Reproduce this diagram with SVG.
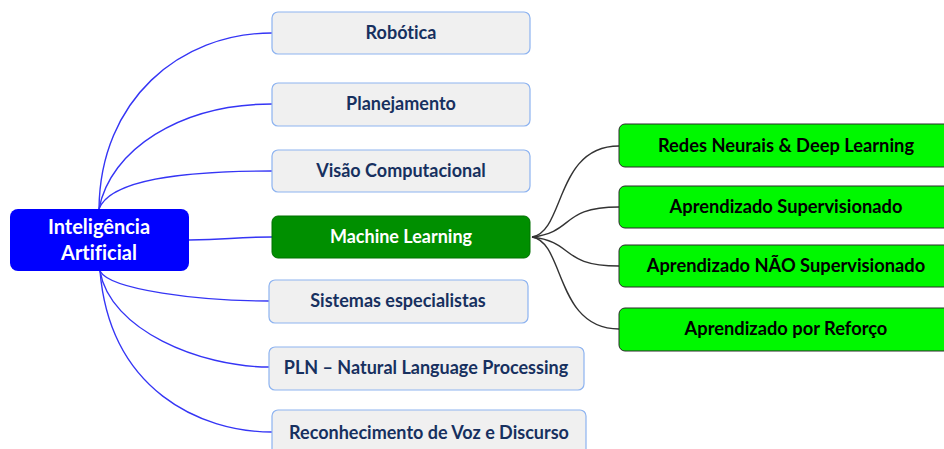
<svg xmlns="http://www.w3.org/2000/svg" width="944" height="449" viewBox="0 0 944 449">
<style>
  text { font-family: Lato, "Liberation Sans", sans-serif; font-weight: bold; text-anchor: middle; font-variant-ligatures: none; }
  .gray rect { fill: #f0f0f0; stroke: #8db3f0; stroke-width: 1.2; }
  .gray text { fill: #17305f; font-size: 18px; }
  .lime rect { fill: #00f800; stroke: #2a2a2a; stroke-width: 1; }
  .lime text { fill: #000; font-size: 18.3px; }
  .blue { fill: none; stroke: #3535f5; stroke-width: 1.4; }
  .black { fill: none; stroke: #333; stroke-width: 1.4; }
</style>
<rect width="944" height="449" fill="#fff"/>
<g id="connectors">
  <path class="blue" d="M99,209 C100,100 180,33 272,33"/>
  <path class="blue" d="M99,209 C110,150 180,104 272,104"/>
  <path class="blue" d="M99,209 C110,180 180,171 272,171"/>
  <path class="blue" d="M189,240 C230,240 230,237 272,237"/>
  <path class="blue" d="M100,271 C110,290 200,301 269,301"/>
  <path class="blue" d="M100,271 C110,330 200,367 269,367"/>
  <path class="blue" d="M100,271 C110,390 200,432 272,432"/>
  <path class="black" d="M532,237 C565,232 555,146 619,146"/>
  <path class="black" d="M532,237 C575,232 560,207 619,207"/>
  <path class="black" d="M532,237 C575,242 560,266 619,266"/>
  <path class="black" d="M532,237 C565,242 555,329 619,329"/>
</g>
<g id="root">
  <rect x="10" y="209" width="179" height="62" rx="8" fill="#0000ff"/>
  <text x="99" y="234" fill="#fff" font-size="20">Inteligência</text>
  <text x="99" y="260" fill="#fff" font-size="20">Artificial</text>
</g>
<g id="robotica" class="gray">
  <rect x="272" y="12" width="258" height="42" rx="6"/>
  <text x="401" y="39">Robótica</text>
</g>
<g id="planejamento" class="gray">
  <rect x="272" y="83" width="258" height="43" rx="6"/>
  <text x="401" y="110">Planejamento</text>
</g>
<g id="visao" class="gray">
  <rect x="272" y="150" width="258" height="42" rx="6"/>
  <text x="401" y="177">Visão Computacional</text>
</g>
<g id="ml">
  <rect x="272" y="216" width="258" height="42" rx="6" fill="#008f00" stroke="#007000" stroke-width="1"/>
  <text x="401" y="243" fill="#fff" font-size="18">Machine Learning</text>
</g>
<g id="sistemas" class="gray">
  <rect x="269" y="280" width="259" height="43" rx="6"/>
  <text x="398" y="307">Sistemas especialistas</text>
</g>
<g id="pln" class="gray">
  <rect x="269" y="347" width="315" height="43" rx="6"/>
  <text x="426" y="374">PLN – Natural Language Processing</text>
</g>
<g id="voz" class="gray">
  <rect x="272" y="410" width="314" height="50" rx="6"/>
  <text x="429" y="439">Reconhecimento de Voz e Discurso</text>
</g>
<g id="redes" class="lime">
  <rect x="619" y="124" width="340" height="43" rx="6"/>
  <text x="786" y="152">Redes Neurais &amp; Deep Learning</text>
</g>
<g id="supervisionado" class="lime">
  <rect x="619" y="186" width="340" height="42" rx="6"/>
  <text x="786" y="213">Aprendizado Supervisionado</text>
</g>
<g id="nao-supervisionado" class="lime">
  <rect x="619" y="245" width="340" height="42" rx="6"/>
  <text x="786" y="272">Aprendizado NÃO Supervisionado</text>
</g>
<g id="reforco" class="lime">
  <rect x="619" y="308" width="340" height="43" rx="6"/>
  <text x="786" y="335">Aprendizado por Reforço</text>
</g>
</svg>
